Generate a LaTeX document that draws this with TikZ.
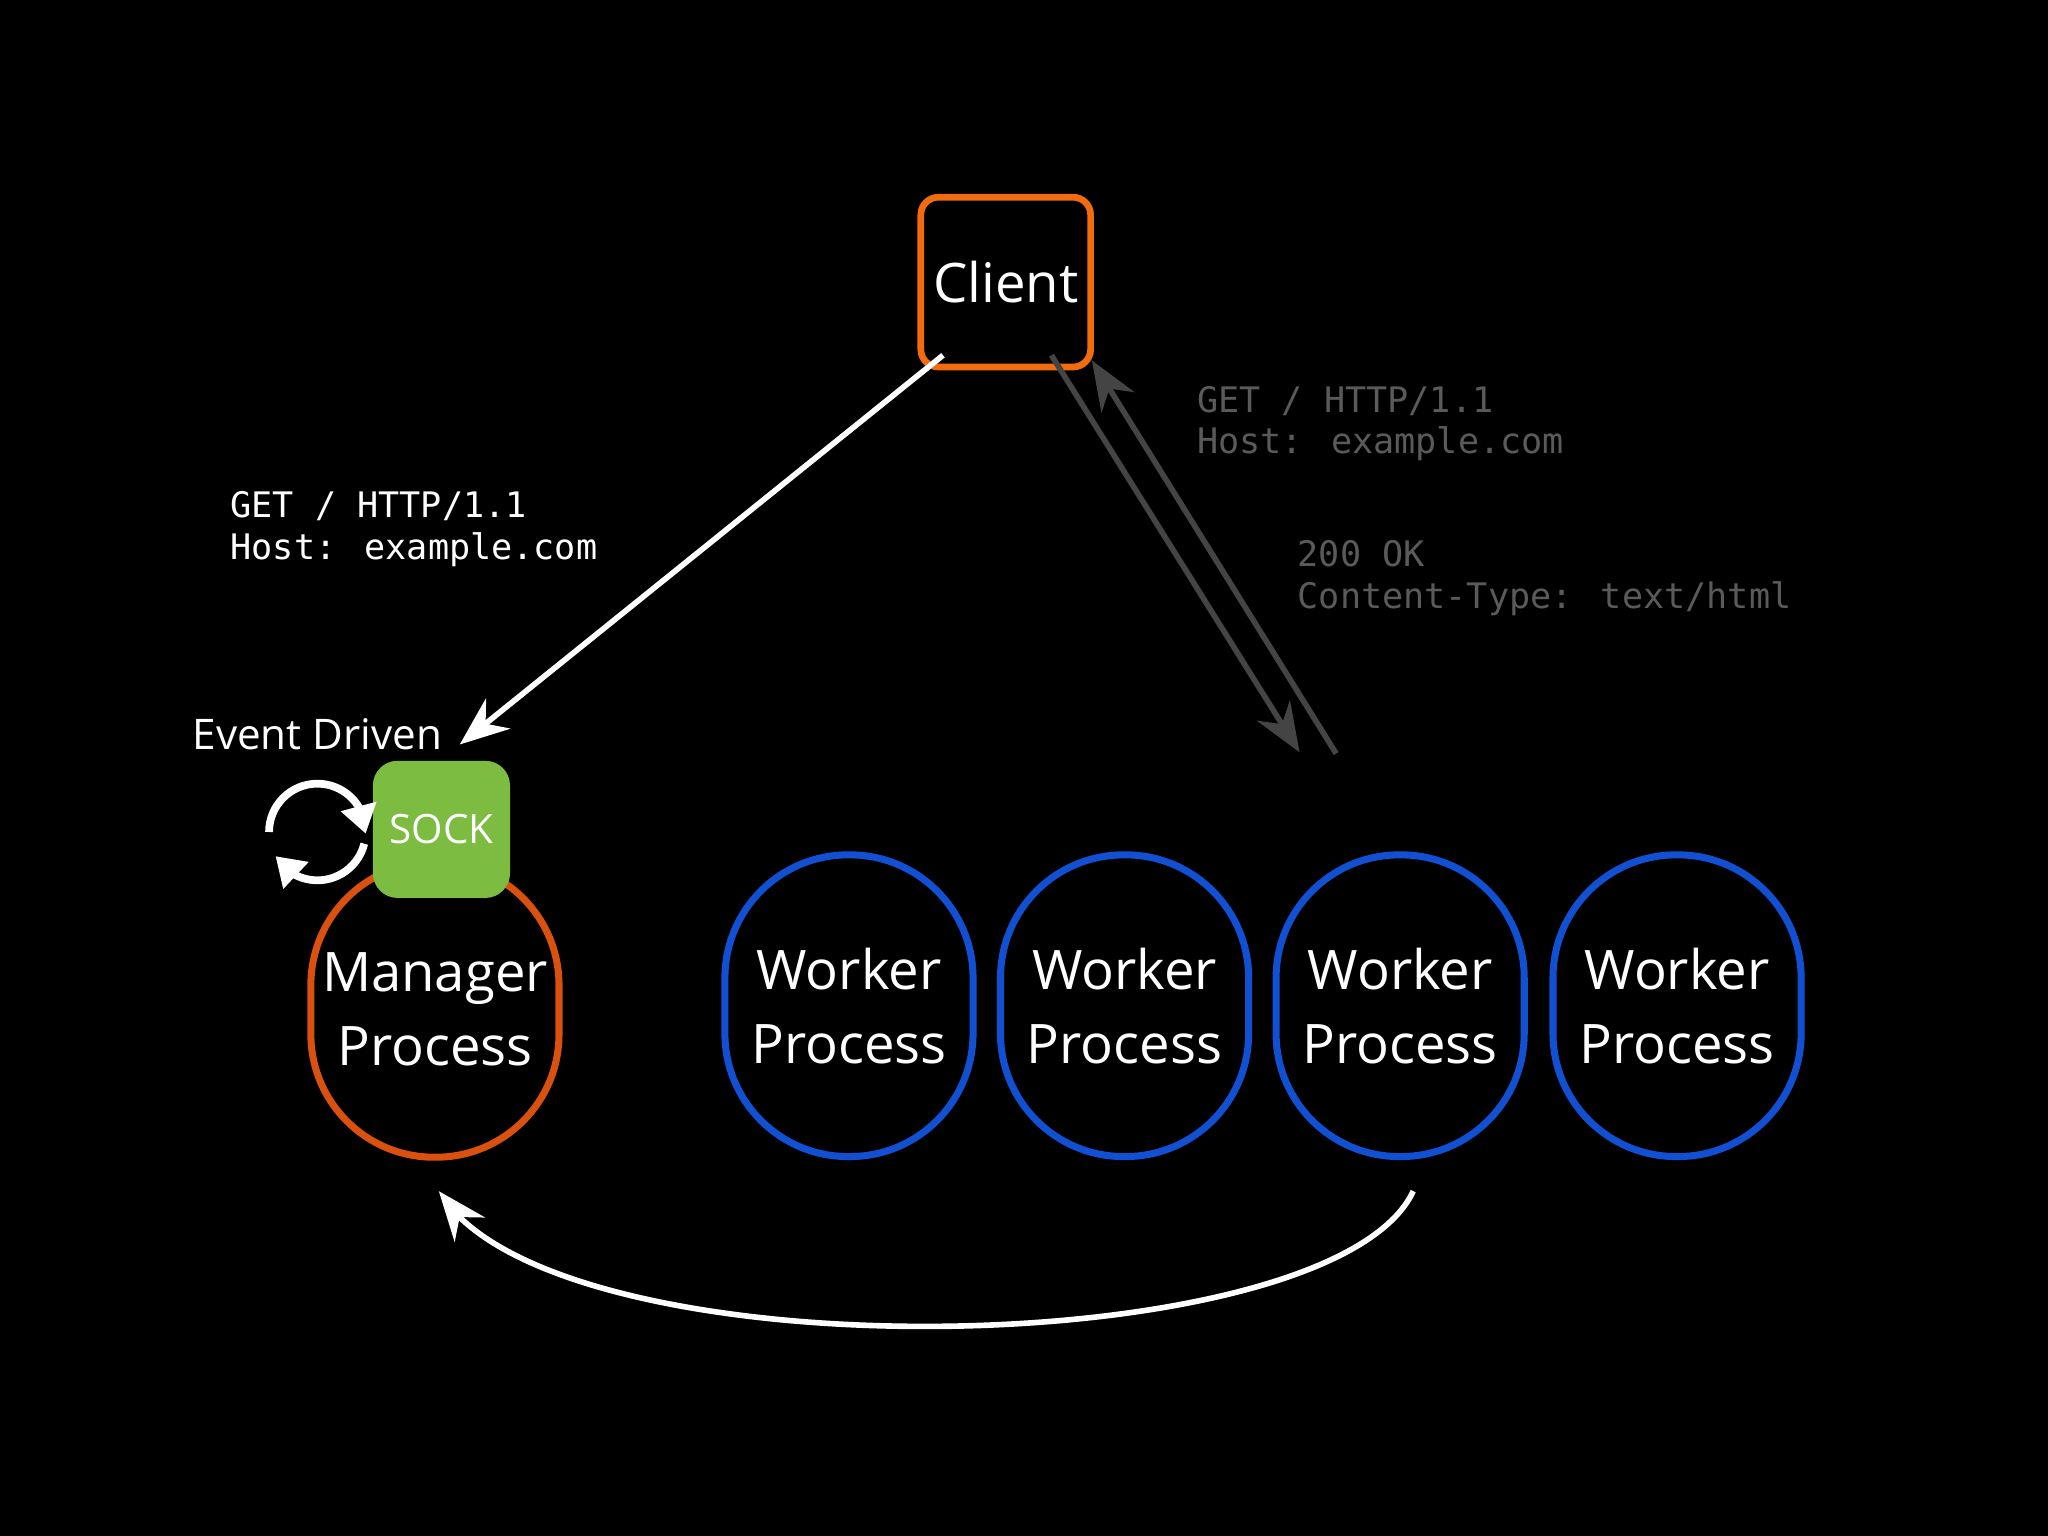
\documentclass[tikz,border=0pt]{standalone}
\usepackage{fontspec}
\setmainfont{Open Sans}
\newfontfamily\monof{DejaVu Sans Mono}
\usetikzlibrary{arrows.meta,bending}
\definecolor{corange}{HTML}{F26B0F}
\definecolor{morange}{HTML}{D9500F}
\definecolor{wblue}{HTML}{1150D2}
\definecolor{sgreen}{HTML}{7CBC40}
\definecolor{gline}{HTML}{444444}
\definecolor{gtext}{HTML}{5A5A5A}
\newlength\pxu \setlength\pxu{0.3716pt}
\tikzset{
  stadium/.style={draw, line width=2pt, rounded corners=35pt, inner sep=0pt, minimum width=190\pxu, text=white, align=center, font=\fontsize{15.5}{21}\selectfont},
  mono/.style={font=\monof\fontsize{10}{11.9}\selectfont, align=left, anchor=north west, inner sep=0pt},
  warrow/.style={white, line width=1.6pt, -{Stealth[length=14pt,width=11pt]}},
  garrow/.style={gline, line width=1.6pt, -{Stealth[length=14pt,width=11pt]}},
  cyc/.style={white, line width=2.2pt, -{Triangle[length=8pt,width=10pt,flex]}},
}
\begin{document}
\begin{tikzpicture}[x=0.013061cm,y=-0.013061cm]
\useasboundingbox[fill=black] (0,0) rectangle (1568,1176);
\node[draw=corange, line width=1.9pt, rounded corners=5pt, minimum width=130\pxu, minimum height=130\pxu, text=white, font=\fontsize{15.5}{18}\selectfont] (client) at (770,216) {Client};
\node[stadium, draw=morange, minimum height=226\pxu] (manager) at (333,773) {Manager\\Process};
\node[fill=sgreen, rounded corners=7pt, minimum width=105\pxu, minimum height=105\pxu, text=white, font=\fontsize{11.5}{14}\selectfont] (sock) at (338,635) {SOCK};
\node[text=white, font=\fontsize{12}{14}\selectfont] (ev) at (243,562) {Event Driven};
\foreach \i/\x in {1/650,2/861,3/1072,4/1284}
  \node[stadium, draw=wblue, minimum height=231\pxu] (w\i) at (\x,770) {Worker\\Process};
\coordinate (cyc) at (243,637);
\draw[cyc] (cyc) ++(180:37) arc (180:362:37);
\draw[cyc] (cyc) ++(14:37) arc (14:150:37);
\coordinate (a1) at (722,272); \coordinate (a2) at (352,570);
\draw[warrow] (a1) -- (a2);
\node[mono, text=white] (l1) at (176,376) {GET / HTTP/1.1\\Host: example.com};
\coordinate (g1) at (805,272); \coordinate (g2) at (995,576);
\coordinate (g3) at (1023,577); \coordinate (g4) at (836,276);
\draw[garrow] (g1) -- (g2);
\draw[garrow] (g3) -- (g4);
\node[mono, text=gtext] (l2) at (916,295) {GET / HTTP/1.1\\Host: example.com};
\node[mono, text=gtext] (l3) at (993,413) {200 OK\\Content-Type: text/html};
\coordinate (b1) at (1082,912); \coordinate (b2) at (336,912);
\draw[warrow] (b1) .. controls (1020,1045) and (420,1055) .. (b2);
\end{tikzpicture}
\end{document}
